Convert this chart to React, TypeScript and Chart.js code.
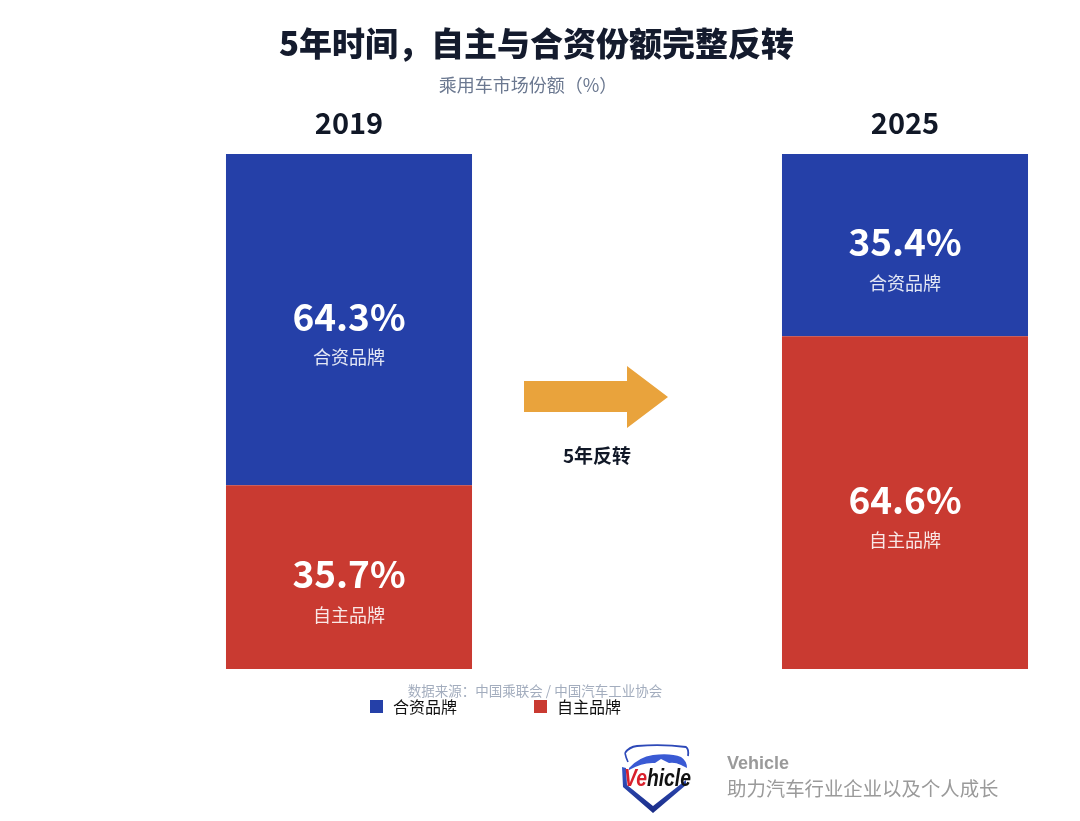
import React, { useEffect, useRef } from "react";
import { Chart, registerables } from "chart.js";

Chart.register(...registerables);

const years = ["2019", "", "2025"];
const domesticShare = [35.7, null, 64.6];
const jointShare = [64.3, null, 35.4];
const seriesNames = ["自主品牌", "合资品牌"];
const seriesColors = ["#C93A31", "#2540A8"];
const arrowCaption = "5年反转";

const CJK = '"Noto Sans CJK SC", "Noto Sans", sans-serif';

const labelPlugin = {
  id: "barLabels",
  afterDatasetsDraw(chart: any) {
    const ctx = chart.ctx;
    const xs = chart.scales.x;
    const area = chart.chartArea;
    ctx.save();
    ctx.fillStyle = "#111827";
    ctx.font = `bold 29px ${CJK}`;
    ctx.textAlign = "center";
    ctx.textBaseline = "middle";
    years.forEach((y, i) => {
      if (!y) return;
      ctx.fillText(y, xs.getPixelForValue(i), area.top - 31);
    });
    chart.data.datasets.forEach((ds: any, di: number) => {
      const meta = chart.getDatasetMeta(di);
      meta.data.forEach((bar: any, i: number) => {
        const v = ds.data[i];
        if (v == null) return;
        const cy = (bar.y + bar.base) / 2;
        ctx.fillStyle = "#FFFFFF";
        ctx.font = `bold 37px ${CJK}`;
        ctx.fillText(v.toFixed(1) + "%", bar.x, cy - 3);
        ctx.fillStyle = "rgba(255,255,255,0.88)";
        ctx.font = `18px ${CJK}`;
        ctx.fillText(ds.label, bar.x, cy + 38);
      });
    });
    const mid = xs.getPixelForValue(1);
    const cyA = area.top + 243;
    ctx.fillStyle = "#E9A33C";
    ctx.beginPath();
    ctx.moveTo(mid - 103, cyA - 16);
    ctx.lineTo(mid, cyA - 16);
    ctx.lineTo(mid, cyA - 31);
    ctx.lineTo(mid + 41, cyA);
    ctx.lineTo(mid, cyA + 31);
    ctx.lineTo(mid, cyA + 15);
    ctx.lineTo(mid - 103, cyA + 15);
    ctx.closePath();
    ctx.fill();
    ctx.fillStyle = "#111827";
    ctx.font = `bold 19px ${CJK}`;
    ctx.fillText(arrowCaption, mid - 30, cyA + 59);
    ctx.restore();
  },
};

function Logo() {
  return (
    <svg width={85} height={80} viewBox="0 0 85 80" style={{ position: "absolute", left: 615, top: 735 }}>
      <defs>
        <linearGradient id="sh" x1="0" y1="0" x2="0" y2="1">
          <stop offset="0" stopColor="#3556C8" />
          <stop offset="1" stopColor="#1A2C86" />
        </linearGradient>
      </defs>
      <path d="M10 18 Q14 12 22 11 Q48 9 71 12 Q74 14 73 21" fill="none" stroke="#2D49B8" strokeWidth="1.8" />
      <path d="M10 18 Q11 23 13 27" fill="none" stroke="#2D49B8" strokeWidth="1.6" />
      <path d="M14 33 Q24 22 38 20 Q56 18 66 22 Q72 26 72 33 L66 30 Q60 27 54 28 L46 24 L40 28 Q28 27 14 35 Z" fill="#3A5AD4" />
      <path d="M7 32 L8 52 L38 78 L71 50 L71 45 L38 71 L12 50 L11 33 Z" fill="url(#sh)" />
      <text x="9" y="51" fontFamily="Liberation Sans, Arial, sans-serif" fontSize="23" fontWeight="bold" fontStyle="italic" textLength="67" lengthAdjust="spacingAndGlyphs">
        <tspan fill="#D8202C">Ve</tspan>
        <tspan fill="#111111">hicle</tspan>
      </text>
    </svg>
  );
}

export default function App() {
  const ref = useRef<HTMLCanvasElement | null>(null);
  useEffect(() => {
    if (!ref.current) return;
    const chart = new Chart(ref.current, {
      type: "bar",
      data: {
        labels: years,
        datasets: [
          { label: seriesNames[0], data: domesticShare, backgroundColor: seriesColors[0], borderWidth: 0 },
          { label: seriesNames[1], data: jointShare, backgroundColor: seriesColors[1], borderWidth: 0 },
        ],
      },
      options: {
        responsive: false,
        animation: false,
        layout: { padding: { left: 210, right: 36, top: 154, bottom: 152 } },
        datasets: { bar: { categoryPercentage: 1, barPercentage: 0.885 } },
        scales: {
          x: { stacked: true, display: false },
          y: { stacked: true, display: false, min: 0, max: 100 },
        },
        plugins: { legend: { display: false }, tooltip: { enabled: false }, title: { display: false } },
      },
      plugins: [labelPlugin],
    });
    return () => chart.destroy();
  }, []);

  return (
    <div style={{ position: "absolute", left: 0, top: 0, width: 1080, height: 821, background: "#fff", overflow: "hidden", fontFamily: CJK }}>
      <canvas ref={ref} width={1080} height={821} style={{ position: "absolute", left: 0, top: 0, width: 1080, height: 821 }} />
      <div style={{ position: "absolute", left: 0, width: 1073, top: 20, textAlign: "center", fontSize: 33, fontWeight: 900, color: "#141B2D", lineHeight: "44px" }}>
        5年时间，自主与合资份额完整反转
      </div>
      <div style={{ position: "absolute", left: 0, width: 1056, top: 72, textAlign: "center", fontSize: 18, color: "#6B7890", lineHeight: "24px" }}>
        乘用车市场份额（%）
      </div>
      <div style={{ position: "absolute", left: 0, width: 1070, top: 681, textAlign: "center", fontSize: 13.5, color: "#A3ADBE", lineHeight: "18px" }}>
        数据来源：中国乘联会 / 中国汽车工业协会
      </div>
      <div style={{ position: "absolute", left: 370, top: 694, display: "flex", alignItems: "center", fontSize: 16, color: "#111" }}>
        <span style={{ width: 13, height: 13, background: seriesColors[1], display: "inline-block", marginRight: 10 }} />
        <span>{seriesNames[1]}</span>
      </div>
      <div style={{ position: "absolute", left: 534, top: 694, display: "flex", alignItems: "center", fontSize: 16, color: "#111" }}>
        <span style={{ width: 13, height: 13, background: seriesColors[0], display: "inline-block", marginRight: 10 }} />
        <span>{seriesNames[0]}</span>
      </div>
      <Logo />
      <div style={{ position: "absolute", left: 727, top: 751, fontSize: 18, fontWeight: 700, color: "#9A9A9A", fontFamily: '"Liberation Sans", Arial, sans-serif', lineHeight: "24px" }}>
        Vehicle
      </div>
      <div style={{ position: "absolute", left: 727, top: 774, fontSize: 19.4, color: "#9A9A9A", lineHeight: "28px" }}>
        助力汽车行业企业以及个人成长
      </div>
    </div>
  );
}
